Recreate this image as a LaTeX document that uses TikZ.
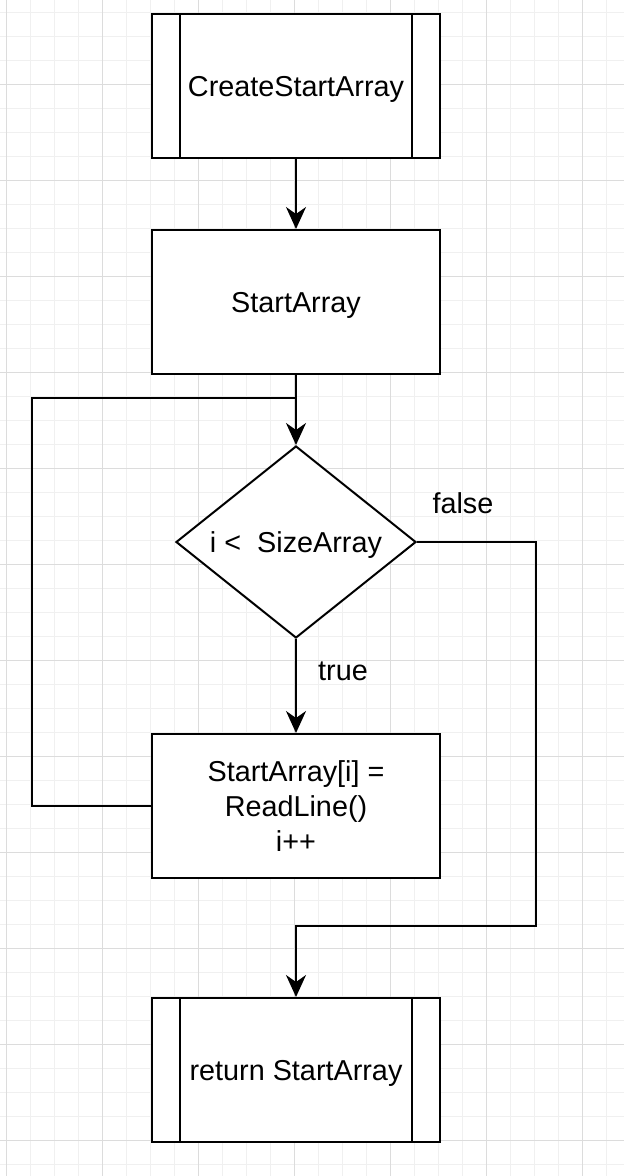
\documentclass[tikz,border=0pt]{standalone}
\usepackage{fontspec}
\setmainfont{Liberation Sans}
\usetikzlibrary{shapes.geometric,arrows.meta}
\definecolor{gminor}{HTML}{F0F0F0}
\definecolor{gmajor}{HTML}{DCDCDC}
\begin{document}
\begin{tikzpicture}[x=1pt,y=-1pt,
  txt/.style={font=\fontsize{28.8}{34.6}\selectfont, align=center},
  box/.style={txt, draw, line width=2pt, fill=white, minimum width=288pt, minimum height=144pt, inner sep=0pt, text depth=0pt},
  dec/.style={txt, draw, line width=2pt, fill=white, shape=diamond, shape aspect=1.25, minimum width=240pt, minimum height=192pt, inner sep=0pt, text depth=0pt},
  conn/.style={line width=2pt},
  arr/.style={conn, -{Stealth[length=22pt,width=20pt,inset=7pt]}},
  lbl/.style={txt, inner sep=0pt}
]
\useasboundingbox (0,0) rectangle (624,1176);
\fill[white] (0,0) rectangle (624,1176);
% grid
\foreach \k in {0,...,25} \draw[gminor, line width=1pt] ({6.5+24*\k},0) -- ({6.5+24*\k},1176);
\foreach \k in {0,...,48} \draw[gminor, line width=1pt] (0,{12+24*\k}) -- (624,{12+24*\k});
\foreach \k in {0,...,6} \draw[gmajor, line width=1pt] ({6.5+96*\k},0) -- ({6.5+96*\k},1176);
\foreach \k in {0,...,12} \draw[gmajor, line width=1pt] (0,{84+96*\k}) -- (624,{84+96*\k});

% nodes
\node[box] (a) at (296,86) {CreateStartArray};
\draw[line width=2pt] ([xshift=29pt]a.north west) -- ([xshift=29pt]a.south west);
\draw[line width=2pt] ([xshift=-29pt]a.north east) -- ([xshift=-29pt]a.south east);
\node[box] (b) at (296,302) {StartArray};
\node[dec] (d) at (296,542) {i <~ SizeArray};
\node[box] (l) at (296,806) {StartArray[i] =\\ReadLine()\\i++};
\node[box] (r) at (296,1070) {return StartArray};
\draw[line width=2pt] ([xshift=29pt]r.north west) -- ([xshift=29pt]r.south west);
\draw[line width=2pt] ([xshift=-29pt]r.north east) -- ([xshift=-29pt]r.south east);

\coordinate (j) at (296,398);
\coordinate (lp) at (32,806);
\coordinate (fr) at (536,542);
\coordinate (fb) at (296,926);

% connectors
\draw[arr] (a) -- (b);
\draw[arr] (b) -- (d);
\draw[conn] (l.west) -- (lp) |- (j);
\draw[arr] (d.south) -- (l.north);
\draw[arr] (d.east) -- (fr) |- (fb) -- (r.north);

\node[lbl] (tl) at (343,671) {true};
\node[lbl] (fl) at (463,503) {false};
\end{tikzpicture}
\end{document}
